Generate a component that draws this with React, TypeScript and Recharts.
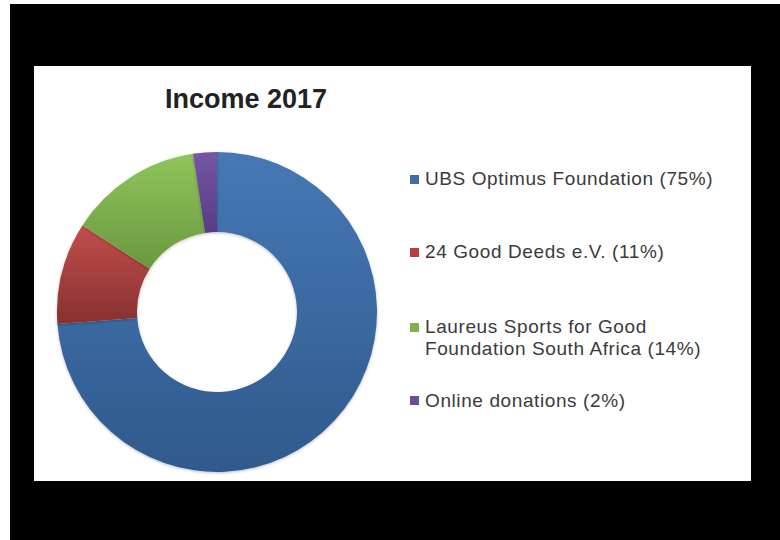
import { Cell, Legend, Pie, PieChart } from "recharts";

const sources = [
  "UBS Optimus Foundation (75%)",
  "24 Good Deeds e.V. (11%)",
  "Laureus Sports for Good\nFoundation South Africa (14%)",
  "Online donations (2%)"
];
const shares = [73.8, 10.3, 13.5, 2.4];

const swatches = ["#3d6eab", "#b6403e", "#7fb24e", "#6a4c98"];
const gradients = [
  ["#4678b5", "#2f5a8c"],
  ["#c24f4c", "#873030"],
  ["#8fc55c", "#6a983d"],
  ["#7556a3", "#573d84"]
];

const data = sources.map((name, i) => ({ name, value: shares[i] }));

// row offsets inside the legend box
const rowTops = [0, 73, 148, 221.5];

function LegendBox() {
  // keep the data order (recharts sorts legend items by name otherwise)
  return (
    <div style={{ position: "relative", width: 340, height: 260 }}>
      {sources.map((label, i) => (
        <div
          key={i}
          style={{
            position: "absolute",
            top: rowTops[i],
            left: 0,
            display: "flex",
            alignItems: "flex-start",
            fontFamily: "'Liberation Sans', Arial, sans-serif",
            fontSize: 19,
            letterSpacing: 0.6,
            lineHeight: "22px",
            color: "#3b3b3b",
            whiteSpace: "pre"
          }}
        >
          <span
            style={{
              display: "inline-block",
              width: 9,
              height: 9,
              marginTop: 6.5,
              marginRight: 6,
              background: swatches[i]
            }}
          />
          <span>{label}</span>
        </div>
      ))}
    </div>
  );
}

export default function App() {
  return (
    <div style={{ position: "absolute", left: 0, top: 0, width: 780, height: 540, background: "#fff" }}>
      <div style={{ position: "absolute", left: 10, top: 4, width: 770, height: 536, background: "#000" }} />
      <div style={{ position: "absolute", left: 34, top: 66, width: 717, height: 415, background: "#fff" }}>
        <div
          style={{
            position: "absolute",
            left: 131,
            top: 19.5,
            width: 160,
            textAlign: "center",
            whiteSpace: "nowrap",
            fontFamily: "'Liberation Sans', Arial, sans-serif",
            fontWeight: "bold",
            fontSize: 27,
            lineHeight: "27px",
            color: "#222"
          }}
        >
          Income 2017
        </div>
        <PieChart width={717} height={415} margin={{ top: 0, right: 0, bottom: 0, left: 0 }}>
          <defs>
            {gradients.map((g, i) => (
              <linearGradient key={i} id={`slice${i}`} x1="0" y1="0" x2="0" y2="1">
                <stop offset="0%" stopColor={g[0]} />
                <stop offset="100%" stopColor={g[1]} />
              </linearGradient>
            ))}
            <filter id="soft" x="-10%" y="-10%" width="120%" height="120%">
              <feDropShadow dx="0" dy="1" stdDeviation="1.5" floodColor="#000" floodOpacity="0.25" />
            </filter>
          </defs>
          <Pie
            data={data}
            dataKey="value"
            nameKey="name"
            cx={183}
            cy={246}
            innerRadius={80}
            outerRadius={160}
            startAngle={90}
            endAngle={-270}
            stroke="none"
            isAnimationActive={false}
            style={{ filter: "url(#soft)" }}
          >
            {data.map((_, i) => (
              <Cell key={i} fill={`url(#slice${i})`} />
            ))}
          </Pie>
          <Legend
            layout="vertical"
            align="right"
            verticalAlign="top"
            content={<LegendBox />}
            wrapperStyle={{ left: 376, top: 102, width: 340 }}
          />
        </PieChart>
      </div>
    </div>
  );
}
